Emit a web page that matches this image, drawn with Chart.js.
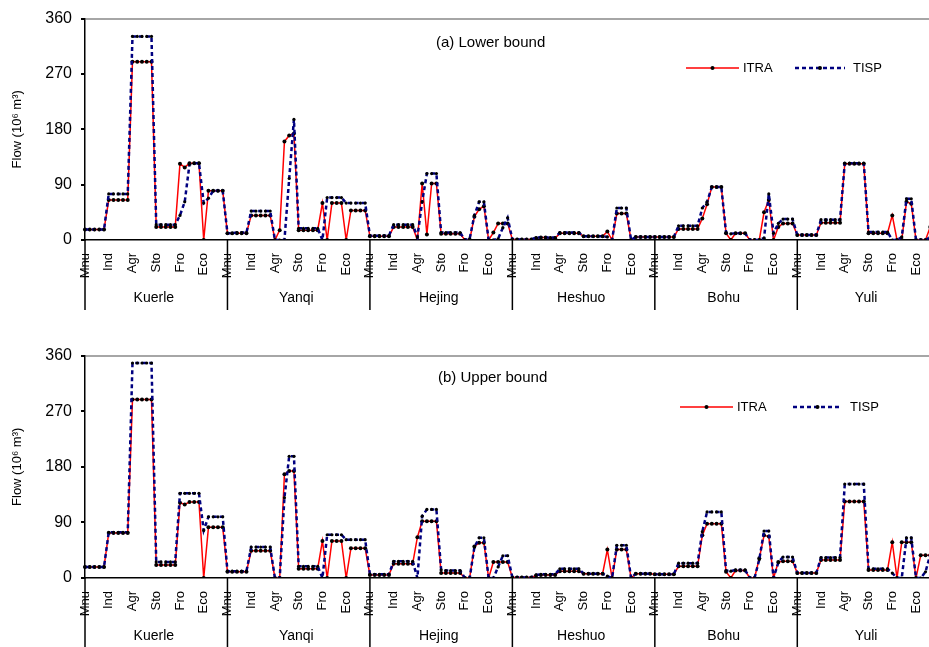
<!DOCTYPE html>
<html>
<head>
<meta charset="utf-8">
<script src="https://cdn.jsdelivr.net/npm/chart.js@4.4.1/dist/chart.umd.min.js"></script>
<style>
  html, body { margin: 0; padding: 0; background: #fff; overflow: hidden; }
  #wrap { width: 929px; height: 647px; overflow: hidden; }
  canvas { display: block; }
</style>
</head>
<body>
<div id="wrap">
  <canvas id="chart-lower" width="940" height="337"></canvas>
  <canvas id="chart-upper" width="940" height="310"></canvas>
</div>
<script>
const regions = ['Kuerle', 'Yanqi', 'Hejing', 'Heshuo', 'Bohu', 'Yuli'];
const sectors = ['Mnu', 'Ind', 'Agr', 'Sto', 'Fro', 'Eco'];
const periods = 5;
const yTicks = [0, 90, 180, 270, 360];

// (a) lower bound, one line per region: Mnu, Ind, Agr, Sto, Fro, Eco x 5 periods
const itraLower = [
    17, 17, 17, 17, 17, 65, 65, 65, 65, 65, 290, 290, 290, 290, 290, 21, 21, 21, 21, 21, 124, 118, 125, 125, 125, 0, 80, 80, 80, 80,
    11, 11, 11, 11, 11, 40, 40, 40, 40, 40, 0, 16, 160, 170, 173, 16, 16, 16, 16, 16, 60, 0, 60, 60, 60, 0, 48, 48, 48, 48,
    6, 6, 6, 6, 6, 21, 21, 21, 21, 21, 0, 92, 9, 92, 92, 10, 10, 10, 10, 10, 0, 0, 38, 50, 55, 0, 12, 27, 27, 27,
    1, 1, 1, 1, 1, 3, 4, 4, 3, 3, 11, 11, 11, 11, 11, 6, 6, 6, 6, 6, 14, 0, 43, 43, 43, 0, 5, 5, 5, 5,
    5, 5, 5, 5, 5, 18, 18, 18, 18, 18, 35, 58, 86, 86, 86, 11, 0, 11, 11, 11, 0, 0, 0, 45, 65, 0, 21, 27, 27, 27,
    8, 8, 8, 8, 8, 28, 28, 28, 28, 28, 124, 124, 124, 124, 124, 11, 11, 11, 11, 11, 40, 0, 0, 62, 59, 0, 0, 0, 21, 25
];
const tispLower = [
    17, 17, 17, 17, 17, 75, 75, 75, 75, 75, 331, 331, 331, 331, 331, 25, 25, 25, 25, 25, 40, 62, 123, 125, 125, 60, 68, 80, 80, 80,
    11, 11, 12, 12, 12, 47, 47, 47, 47, 47, 0, 0, 0, 100, 196, 19, 19, 19, 19, 19, 0, 69, 69, 69, 69, 60, 60, 60, 60, 60,
    7, 7, 7, 7, 7, 25, 25, 25, 25, 25, 5, 62, 108, 108, 108, 12, 12, 12, 12, 12, 0, 2, 40, 62, 62, 0, 0, 2, 20, 36,
    1, 1, 1, 1, 1, 4, 4, 4, 4, 4, 12, 12, 12, 12, 12, 6, 6, 6, 6, 6, 5, 0, 52, 52, 52, 0, 5, 5, 5, 5,
    5, 5, 5, 5, 5, 23, 23, 23, 23, 23, 52, 62, 86, 86, 86, 12, 10, 11, 11, 11, 0, 0, 0, 3, 75, 11, 27, 34, 34, 34,
    8, 8, 8, 8, 8, 33, 33, 33, 33, 33, 125, 125, 125, 125, 125, 13, 13, 13, 13, 13, 0, 0, 5, 67, 67, 0, 0, 0, 5, 20
];

// (b) upper bound
const itraUpper = [
    18, 18, 18, 18, 18, 73, 73, 73, 73, 73, 289, 289, 289, 289, 289, 21, 21, 21, 21, 21, 122, 119, 123, 123, 123, 0, 82, 82, 82, 82,
    10, 10, 10, 10, 10, 44, 44, 44, 44, 44, 0, 0, 168, 173, 173, 15, 15, 15, 15, 15, 60, 0, 60, 60, 60, 0, 48, 48, 48, 48,
    5, 5, 5, 5, 5, 23, 23, 23, 23, 23, 66, 92, 92, 92, 92, 8, 8, 8, 8, 8, 0, 0, 51, 57, 57, 0, 26, 26, 26, 26,
    1, 1, 1, 1, 1, 4, 5, 5, 5, 5, 11, 11, 11, 11, 11, 7, 7, 7, 7, 7, 46, 0, 46, 46, 46, 0, 7, 7, 7, 7,
    6, 6, 6, 6, 6, 19, 19, 19, 19, 19, 69, 88, 88, 88, 88, 10, 0, 12, 12, 12, 0, 0, 32, 69, 67, 0, 26, 27, 27, 27,
    8, 8, 8, 8, 8, 29, 29, 29, 29, 29, 124, 124, 124, 124, 124, 13, 13, 13, 13, 13, 58, 0, 58, 58, 58, 0, 37, 37, 37, 37
];
const tispUpper = [
    18, 18, 18, 18, 18, 74, 74, 74, 74, 74, 348, 348, 348, 348, 348, 26, 26, 26, 26, 26, 137, 137, 137, 137, 137, 77, 99, 99, 99, 99,
    11, 11, 11, 11, 11, 50, 50, 50, 50, 50, 0, 0, 130, 197, 197, 19, 19, 19, 19, 19, 0, 70, 70, 70, 70, 62, 62, 62, 62, 62,
    6, 6, 6, 6, 6, 27, 27, 27, 27, 27, 0, 100, 111, 111, 111, 13, 12, 12, 12, 12, 0, 0, 50, 65, 65, 0, 0, 18, 36, 36,
    1, 1, 1, 1, 1, 5, 6, 6, 6, 6, 15, 15, 15, 15, 15, 7, 7, 7, 7, 7, 3, 0, 53, 53, 53, 0, 7, 7, 7, 7,
    6, 6, 6, 6, 6, 24, 24, 24, 24, 24, 75, 107, 107, 107, 107, 12, 11, 13, 13, 13, 0, 0, 30, 76, 76, 0, 25, 34, 34, 34,
    8, 8, 8, 8, 8, 33, 33, 33, 33, 33, 152, 152, 152, 152, 152, 15, 15, 15, 15, 15, 8, 0, 0, 65, 65, 0, 0, 10, 38, 38
];

const labels = [];
regions.forEach(r => sectors.forEach(s => {
    for (let p = 1; p <= periods; p++) labels.push(r + ' ' + s + ' ' + p);
}));
const perRegion = sectors.length * periods;

Chart.defaults.font.family = '"Liberation Sans", Arial, sans-serif';
Chart.defaults.color = '#000';

// region separators, region names, panel title, legend
const overlay = {
    id: 'overlay',
    afterDraw(chart, args, o) {
        const { ctx, chartArea } = chart;
        const x = chart.scales.x;
        ctx.save();
        ctx.strokeStyle = '#000';
        ctx.lineWidth = 1.5;
        ctx.fillStyle = '#000';
        ctx.font = '14px "Liberation Sans", Arial, sans-serif';
        ctx.textAlign = 'center';
        ctx.textBaseline = 'middle';
        regions.forEach((r, i) => {
            const px = x.getPixelForValue(i * perRegion);
            ctx.beginPath();
            ctx.moveTo(px, chartArea.bottom);
            ctx.lineTo(px, o.sepBottom);
            ctx.stroke();
            ctx.fillText(r, x.getPixelForValue(i * perRegion + (perRegion - 1) / 2), o.regionY);
        });

        ctx.font = '15px "Liberation Sans", Arial, sans-serif';
        ctx.textAlign = 'left';
        ctx.fillText(o.title, o.titleX, o.titleY);

        // legend
        ctx.font = '13px "Liberation Sans", Arial, sans-serif';
        chart.data.datasets.slice().sort((a, b) => a.legendIndex - b.legendIndex).forEach((ds, i) => {
            const x0 = o.legendX[i], len = o.legendLen[i], y = o.legendY;
            ctx.strokeStyle = ds.borderColor;
            ctx.lineWidth = ds.borderWidth;
            ctx.setLineDash(ds.borderDash || []);
            ctx.beginPath();
            ctx.moveTo(x0, y);
            ctx.lineTo(x0 + len, y);
            ctx.stroke();
            ctx.setLineDash([]);
            ctx.fillStyle = ds.pointBackgroundColor;
            ctx.beginPath();
            ctx.arc(x0 + len / 2, y, 2, 0, Math.PI * 2);
            ctx.fill();
            ctx.fillStyle = '#000';
            ctx.fillText(ds.label, x0 + len + o.legendGap[i], y);
        });
        ctx.restore();
    }
};

function makeChart(id, itra, tisp, o) {
    return new Chart(document.getElementById(id), {
        type: 'line',
        data: {
            labels: labels,
            datasets: [
                {
                    label: 'TISP',
                    legendIndex: 1,
                    data: tisp,
                    borderColor: '#000080',
                    borderWidth: 2.5,
                    borderDash: [4, 3],
                    pointRadius: 1.6,
                    pointBackgroundColor: '#000',
                    pointBorderWidth: 0,
                    fill: false,
                    tension: 0
                },
                {
                    label: 'ITRA',
                    legendIndex: 0,
                    data: itra,
                    borderColor: '#ff0000',
                    borderWidth: 1.5,
                    pointRadius: 2,
                    pointBackgroundColor: '#000',
                    pointBorderWidth: 0,
                    fill: false,
                    tension: 0
                }
            ]
        },
        options: {
            responsive: false,
            animation: false,
            layout: { padding: { top: 15, right: 5, left: 0, bottom: 0 } },
            plugins: {
                legend: { display: false },
                tooltip: { enabled: false },
                overlay: o
            },
            scales: {
                x: {
                    type: 'category',
                    offset: false,
                    grid: { display: false, drawTicks: false },
                    border: { display: true, color: '#000', width: 1.5 },
                    ticks: {
                        autoSkip: false,
                        minRotation: 90,
                        maxRotation: 90,
                        padding: 13,
                        font: { size: 13 },
                        callback: (v, i) => i % periods === 0 ? sectors[Math.floor(i / periods) % sectors.length] : ''
                    },
                    afterFit: s => { s.height = o.xHeight; s.paddingLeft = 0; s.paddingRight = 0; }
                },
                y: {
                    min: 0,
                    max: 360,
                    afterBuildTicks: s => { s.ticks = yTicks.map(v => ({ value: v })); },
                    afterFit: s => { s.width = 85; },
                    grid: {
                        color: c => (c.tick && c.tick.value === 360) ? '#a6a6a6' : 'rgba(0,0,0,0)',
                        tickColor: '#000',
                        tickLength: 4,
                        lineWidth: 2
                    },
                    border: { display: true, color: '#000', width: 1.5 },
                    ticks: { font: { size: 16 }, padding: 9 },
                    title: {
                        display: true,
                        text: 'Flow (10⁶ m³)',
                        font: { size: 13 },
                        padding: { top: 10, bottom: 0 }
                    }
                }
            }
        },
        plugins: [overlay]
    });
}

makeChart('chart-lower', itraLower, tispLower, {
    xHeight: 97, sepBottom: 310, regionY: 298,
    title: '(a) Lower bound', titleX: 436, titleY: 43,
    legendY: 68, legendX: [686, 795], legendLen: [53, 50], legendGap: [4, 8]
});
makeChart('chart-upper', itraUpper, tispUpper, {
    xHeight: 69, sepBottom: 310, regionY: 299,
    title: '(b) Upper bound', titleX: 438, titleY: 41,
    legendY: 70, legendX: [680, 793], legendLen: [53, 49], legendGap: [4, 8]
});
</script>
</body>
</html>
